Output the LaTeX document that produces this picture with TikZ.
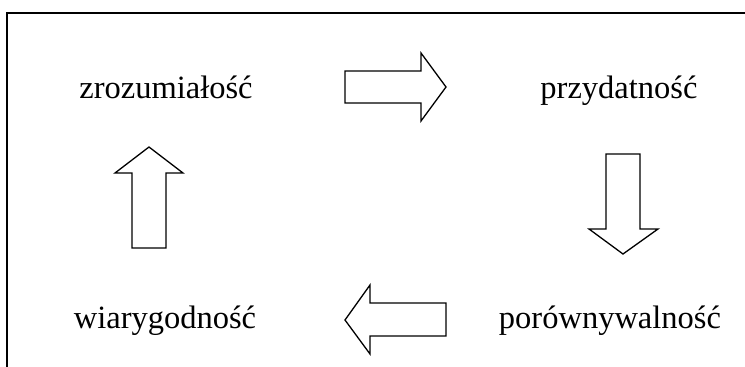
\documentclass[tikz,border=0pt]{standalone}
\usepackage{fontspec}
\setmainfont{Liberation Serif}
\begin{document}
\begin{tikzpicture}[x=1pt,y=-1pt,
  lbl/.style={anchor=base,inner sep=0pt,font=\fontsize{32.5}{36}\selectfont},
  blockarrow/.style={draw=black,line width=1.3pt,fill=white,line join=miter}]
\useasboundingbox (0,0) rectangle (745,367);
\begin{scope}
\clip (0,0) rectangle (745,367);
\draw[line width=1.3pt] (7,380) -- (7,13) -- (760,13);
\end{scope}
\node[lbl] (zro) at (166,98) {zrozumiałość};
\node[lbl] (prz) at (619,98) {przydatność};
\node[lbl] (por) at (610,328) {porównywalność};
\node[lbl] (wia) at (165,328) {wiarygodność};
% right arrow
\draw[blockarrow] (345,71) -- (421,71) -- (421,53) -- (446,87) -- (421,121) -- (421,103) -- (345,103) -- cycle;
% down arrow
\draw[blockarrow] (606,154) -- (640,154) -- (640,229) -- (658,229) -- (623,254) -- (589,229) -- (606,229) -- cycle;
% left arrow
\draw[blockarrow] (446,303) -- (370,303) -- (370,285) -- (345,320) -- (370,354) -- (370,336) -- (446,336) -- cycle;
% up arrow
\draw[blockarrow] (132,248) -- (132,173) -- (115,173) -- (149,147) -- (183,173) -- (166,173) -- (166,248) -- cycle;
\end{tikzpicture}
\end{document}
